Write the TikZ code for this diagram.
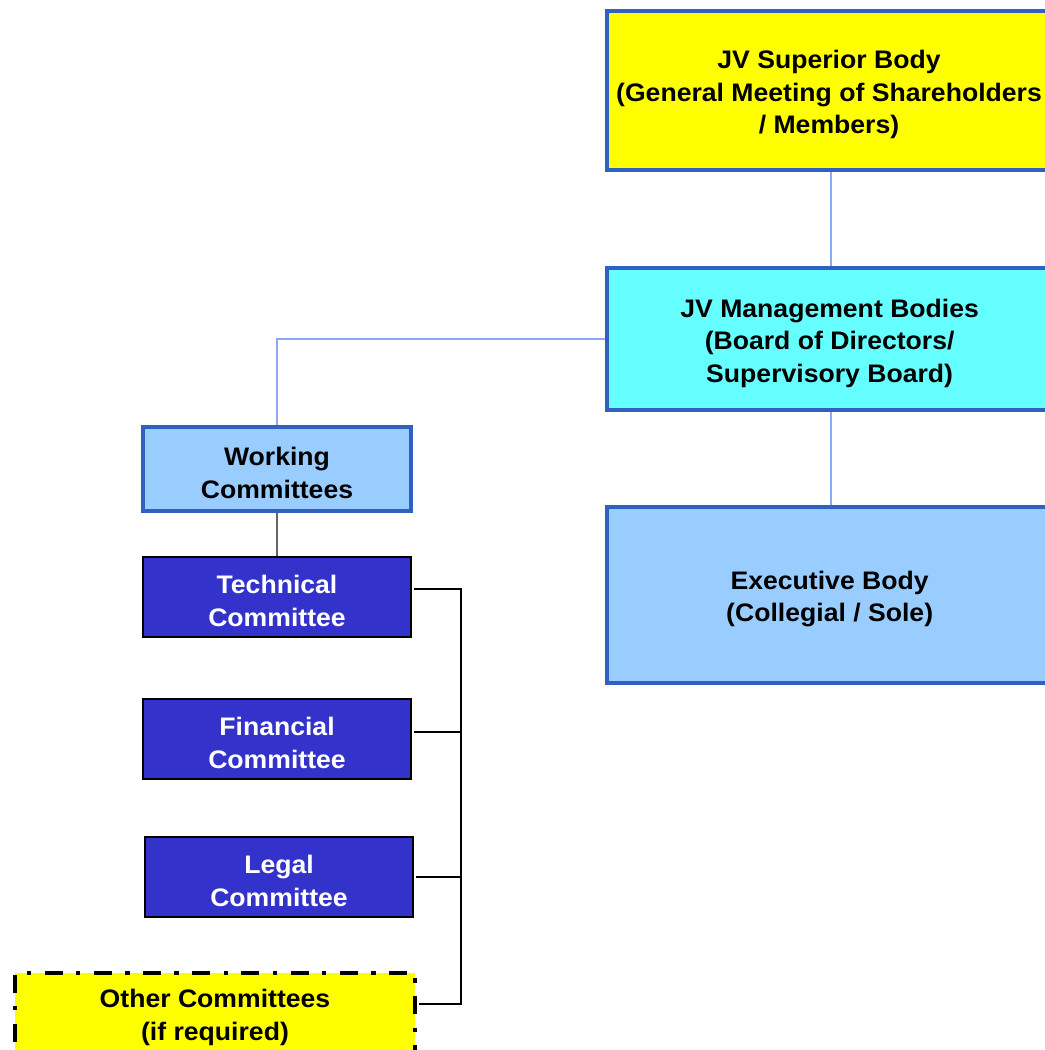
\documentclass[tikz,border=0pt]{standalone}
\usepackage{fontspec}
\setmainfont{Liberation Sans}[FakeStretch=1.05]
\definecolor{bordblue}{HTML}{3060C0}
\definecolor{linkblue}{HTML}{8EA8F8}
\definecolor{lightblue}{HTML}{99CCFF}
\definecolor{cyanfill}{HTML}{66FFFF}
\definecolor{comfill}{HTML}{3333CC}
\definecolor{yel}{HTML}{FFFF00}
\tikzset{
  txt/.style={inner sep=0pt, align=center, yshift=-3pt,
    font=\fontsize{19}{24.4}\selectfont\bfseries},
  box/.style={rectangle, inner sep=0pt},
  bigbox/.style={box, draw=bordblue, line width=3pt, minimum width=336pt},
  combox/.style={box, draw=black, line width=1.8pt, fill=comfill,
    minimum width=201pt, minimum height=60pt},
  link/.style={draw=linkblue, line width=1pt},
  bracket/.style={draw=black, line width=1.5pt},
}
\begin{document}
\begin{tikzpicture}[x=0.75pt, y=-0.75pt]
\useasboundingbox (0,0) rectangle (1045,1050);
\clip (0,0) rectangle (1045,1050);
\fill[white] (0,0) rectangle (1045,1050);

\node[bigbox, fill=yel, minimum height=119.25pt,
  label={[txt, xshift=-1.5pt]center:{JV Superior Body\\ (General Meeting of Shareholders\\ / Members)}}] (sup) at (831,90.5) {};
\node[bigbox, fill=cyanfill, minimum height=106.5pt,
  label={[txt, xshift=-1pt]center:{JV Management Bodies\\ (Board of Directors/\\ Supervisory Board)}}] (mgmt) at (831,339) {};
\node[bigbox, fill=lightblue, minimum height=132pt,
  label={[txt, xshift=-1pt]center:{Executive Body\\ (Collegial / Sole)}}] (exec) at (831,595) {};

\node[box, draw=bordblue, line width=3pt, fill=lightblue,
  minimum width=201pt, minimum height=63pt,
  label={[txt]center:{Working\\ Committees}}] (work) at (277,469) {};

\node[combox, label={[txt, text=white]center:{Technical\\ Committee}}] (tech) at (277,597) {};
\node[combox, label={[txt, text=white]center:{Financial\\ Committee}}] (fin) at (277,739) {};
\node[combox, label={[txt, text=white]center:{Legal\\ Committee}}] (legal) at (279,877) {};

\node[box, draw=black, line width=3.6pt, fill=yel,
  dash pattern=on 13.5pt off 10pt on 3.4pt off 10pt,
  minimum width=300pt, minimum height=63pt,
  label={[txt, yshift=1pt]center:{Other Committees\\ (if required)}}] (other) at (215,1015) {};

% blue links
\draw[link] (sup.south) -- (mgmt.north);
\draw[link] (mgmt.south) -- (exec.north);
\draw[link] (mgmt.west) -| (work.north);
\draw[draw=black!60, line width=1pt] (work.south) -- (tech.north);

% bracket
\coordinate (bT) at (461,589);
\coordinate (bF) at (461,732);
\coordinate (bL) at (461,877);
\coordinate (bO) at (461,1004);
\draw[bracket] ([xshift=1.5pt]tech.east |- bT) -- (bT) -- (bO) -- ([xshift=1.5pt]other.east |- bO);
\draw[bracket] ([xshift=1.5pt]fin.east |- bF) -- (bF);
\draw[bracket] ([xshift=1pt]legal.east |- bL) -- (bL);
\end{tikzpicture}
\end{document}
